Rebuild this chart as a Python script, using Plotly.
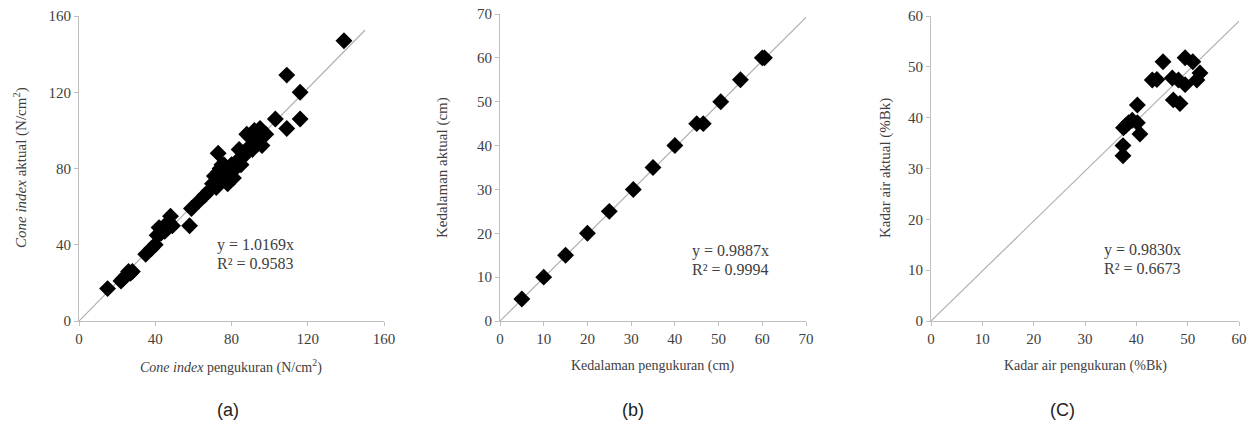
import plotly.graph_objects as go

W, H = 1255, 427

# ---- Panel (a): Cone index ----
a_meas = [15, 22, 23, 25, 26, 27, 28, 35, 38, 40, 41, 42, 43, 45, 47, 48, 49, 58, 59, 63, 66, 68,
          70, 71, 72, 73, 73, 74, 75, 75, 76, 77, 78, 78, 79, 80, 81, 82, 83, 84, 85, 86, 87, 88,
          90, 91, 92, 93, 95, 96, 98, 103, 109, 109, 116, 116, 139]
a_act = [17, 21, 22, 24, 26, 25, 26, 35, 38, 40, 45, 49, 46, 47, 52, 55, 50, 50, 59, 63, 66, 68,
         72, 76, 70, 78, 88, 80, 74, 82, 82, 76, 72, 80, 78, 82, 75, 80, 84, 90, 82, 86, 88, 98,
         92, 90, 100, 97, 101, 92, 98, 106, 101, 129, 120, 106, 147]
a_slope = 1.0169
a_fit_x = [0, 150]

# ---- Panel (b): Kedalaman ----
b_meas = [5, 10, 15, 20, 25, 30.5, 35, 40, 45, 46.5, 50.5, 55, 60, 60.5]
b_act = [5, 10, 15, 20, 25, 30, 35, 40, 45, 45, 50, 55, 60, 60]
b_slope = 0.9887
b_fit_x = [0, 70]

# ---- Panel (c): Kadar air ----
c_meas = [37.4, 37.4, 37.5, 38.0, 38.5, 39.2, 40.2, 40.2, 40.7, 43.1, 44.0, 45.2, 47.0, 47.2,
          48.2, 48.5, 49.5, 49.5, 51.0, 51.8, 52.4]
c_act = [32.5, 34.5, 38.0, 38.5, 39.0, 39.5, 39.0, 42.5, 36.8, 47.4, 47.5, 51.0, 47.8, 43.5,
         47.4, 42.8, 46.5, 51.8, 51.0, 47.4, 48.8]
c_slope = 0.9830
c_fit_x = [0, 60]

eq_a = ["y = 1.0169x", "R² = 0.9583"]
eq_b = ["y = 0.9887x", "R² = 0.9994"]
eq_c = ["y = 0.9830x", "R² = 0.6673"]

fig = go.Figure()

panels = [
    dict(x=a_meas, y=a_act, s=a_slope, fx=a_fit_x, xa="x", ya="y", rng=160, dt=40,
         dom=(79, 384), ydom=(16, 321)),
    dict(x=b_meas, y=b_act, s=b_slope, fx=b_fit_x, xa="x2", ya="y2", rng=70, dt=10,
         dom=(500, 806), ydom=(14, 321)),
    dict(x=c_meas, y=c_act, s=c_slope, fx=c_fit_x, xa="x3", ya="y3", rng=60, dt=10,
         dom=(931, 1239), ydom=(16, 321)),
]

serif = "Times New Roman, Liberation Serif, DejaVu Serif, serif"
axis_col = "#bfbfbf"
txt_col = "#404040"

layout_axes = {}
for i, p in enumerate(panels):
    fig.add_trace(go.Scatter(x=p["fx"], y=[v * p["s"] for v in p["fx"]], mode="lines",
                             line=dict(color="#b0b0b0", width=1.2),
                             xaxis=p["xa"], yaxis=p["ya"], showlegend=False, hoverinfo="skip"))
    fig.add_trace(go.Scatter(x=p["x"], y=p["y"], mode="markers",
                             marker=dict(symbol="diamond", size=13, color="black", line=dict(width=0)),
                             xaxis=p["xa"], yaxis=p["ya"], showlegend=False))
    suffix = "" if i == 0 else str(i + 1)
    common = dict(showgrid=False, zeroline=False, showline=True, linecolor=axis_col, linewidth=1,
                  ticks="outside", ticklen=4, tickcolor=axis_col, tick0=0, dtick=p["dt"],
                  range=[0, p["rng"]], tickfont=dict(family=serif, size=15, color=txt_col),
                  fixedrange=True, automargin=False)
    layout_axes["xaxis" + suffix] = dict(common, domain=[p["dom"][0] / W, p["dom"][1] / W],
                                         anchor="y" + suffix)
    layout_axes["yaxis" + suffix] = dict(common, domain=[1 - p["ydom"][1] / H, 1 - p["ydom"][0] / H],
                                         anchor="x" + suffix)

fig.update_layout(**layout_axes)

annots = []
def ann(text, x, y, size=14, family=serif, angle=0, color=txt_col, xanchor="center"):
    annots.append(dict(text=text, x=x / W, y=1 - y / H, xref="paper", yref="paper",
                       showarrow=False, textangle=angle, xanchor=xanchor, yanchor="middle",
                       font=dict(family=family, size=size, color=color)))

# axis titles
ann("<i>Cone index</i> pengukuran (N/cm<sup>2</sup>)", 231, 366, size=14)
ann("<i>Cone index</i> aktual (N/cm<sup>2</sup>)", 20, 168, size=15, angle=-90)
ann("Kedalaman pengukuran (cm)", 653, 366, size=14)
ann("Kedalaman aktual (cm)", 442, 168, size=15, angle=-90)
ann("Kadar air pengukuran (%Bk)", 1085, 366, size=14)
ann("Kadar air aktual (%Bk)", 885, 168, size=15, angle=-90)

# equations
ann(eq_a[0], 215, 245, size=16, xanchor="left")
ann(eq_a[1], 215, 263, size=16, xanchor="left")
ann(eq_b[0], 690, 251, size=16, xanchor="left")
ann(eq_b[1], 690, 269, size=16, xanchor="left")
ann(eq_c[0], 1102, 250, size=16, xanchor="left")
ann(eq_c[1], 1102, 268, size=16, xanchor="left")

# panel labels
ann("(a)", 228, 410, size=18, family="Liberation Sans, Arial, sans-serif", color="#222222")
ann("(b)", 633, 410, size=18, family="Liberation Sans, Arial, sans-serif", color="#222222")
ann("(C)", 1062, 410, size=18, family="Liberation Sans, Arial, sans-serif", color="#222222")

fig.update_layout(width=W, height=H, margin=dict(l=0, r=0, t=0, b=0, autoexpand=False),
                  paper_bgcolor="white", plot_bgcolor="white", annotations=annots)

fig.write_html("out.html",
               post_script="document.body.style.margin='0px';document.body.style.overflow='hidden';")
